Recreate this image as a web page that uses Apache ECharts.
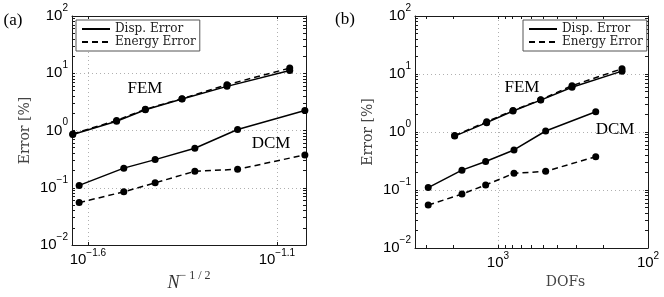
<!DOCTYPE html>
<html>
<head>
<meta charset="utf-8">
<script src="https://cdn.jsdelivr.net/npm/echarts@6/dist/echarts.min.js"></script>
<style>
html,body{margin:0;padding:0;background:#fff;}
#c{width:664px;height:297px;}
</style>
</head>
<body>
<div id="c"></div>
<script>
// ---- data ----
const femXA = [0.02291, 0.02992, 0.03565, 0.04457, 0.05861, 0.08590];   // N^{-1/2}
const dcmXA = [0.02382, 0.03126, 0.03784, 0.04819, 0.06252, 0.09419];   // N^{-1/2}
const femDofs = [1944, 1189, 794, 519, 321, 149];
const dcmDofs = [2917, 1738, 1208, 782, 481, 223];
const femDisp = [0.85, 1.45, 2.3, 3.55, 5.9, 11.2];
const femEnergy = [0.87, 1.5, 2.35, 3.6, 6.3, 12.3];
const dcmDisp = [0.11, 0.22, 0.31, 0.49, 1.04, 2.24];
const dcmEnergy = [0.055, 0.085, 0.122, 0.194, 0.21, 0.375];
const xTickExpA = [-1.6, -1.1];
const xTickExpB = [3, 2];
const yTickExp = [-2, -1, 0, 1, 2];
const seriesNames = ['Disp. Error', 'Energy Error'];

const zip = (xs, ys) => xs.map((x, i) => [x, ys[i]]);
const pow10 = e => Math.pow(10, e);
const fmtExp = e => (e < 0 ? '\u2212' : '') + Math.abs(e);

// tick value lists
const yMajor = yTickExp.map(pow10);
const yAllTicks = [];
for (let d = -2; d < 2; d++) for (let k = 1; k <= 9; k++) yAllTicks.push(k * Math.pow(10, d));
yAllTicks.push(100);
const yGrid = yMajor.slice(1, -1);
const xMajorA = xTickExpA.map(pow10);
const xMajorB = xTickExpB.map(pow10);
const xAllB = [100, 200, 300, 400, 500, 600, 700, 800, 900, 1000, 2000, 3000];

const tickFont = 'Liberation Sans, Arial, sans-serif';
const serif = 'DejaVu Serif, serif';
const richY = {
  b: {fontFamily: tickFont, fontSize: 15, lineHeight: 26, color: '#000'},
  s: {fontFamily: tickFont, fontSize: 10, lineHeight: 10, verticalAlign: 'top', color: '#000'}
};
const richX = {
  b: {fontFamily: tickFont, fontSize: 15, lineHeight: 24, color: '#000'},
  s: {fontFamily: tickFont, fontSize: 10, lineHeight: 10, verticalAlign: 'top', color: '#000'}
};
const powLabel = (v, dec) => {
  const e = Math.round(Math.log10(v) * dec) / dec;
  return '{b|10}{s|' + fmtExp(e) + '}';
};

const lineCol = '#1a1a1a';
const gridStyle = {show: true, lineStyle: {color: '#b0b0b0', width: 1, type: [1, 3]}};

function xAxes(gridIndex, min, max, inverse, labelVals, tickVals, gridVals, name, nameStyle, nameGap) {
  return [
    { gridIndex, type: 'log', min, max, inverse, position: 'bottom',
      axisLine: {show: true, lineStyle: {color: lineCol, width: 1}},
      axisTick: {show: true, inside: true, length: 3, customValues: tickVals, lineStyle: {color: lineCol}},
      axisLabel: {show: true, customValues: labelVals, margin: 3, formatter: v => powLabel(v, 10), rich: richX},
      splitLine: {show: false}, minorTick: {show: false} },
    { gridIndex, type: 'log', min, max, inverse, position: 'top',
      axisLine: {show: true, lineStyle: {color: lineCol, width: 1}},
      axisTick: {show: true, inside: true, length: 3, customValues: tickVals, lineStyle: {color: lineCol}},
      axisLabel: {show: false}, splitLine: {show: false} },
    { gridIndex, type: 'log', min, max, inverse, position: 'bottom',
      axisLine: {show: false}, axisTick: {show: false, customValues: gridVals},
      axisLabel: {show: false}, splitLine: gridStyle,
      name, nameLocation: 'middle', nameGap, nameTextStyle: nameStyle }
  ];
}
function yAxes(gridIndex, nameGap) {
  return [
    { gridIndex, type: 'log', min: 0.01, max: 100, position: 'left',
      axisLine: {show: true, lineStyle: {color: lineCol, width: 1}},
      axisTick: {show: true, inside: true, length: 3, customValues: yAllTicks, lineStyle: {color: lineCol}},
      axisLabel: {show: true, customValues: yMajor, margin: 4, formatter: v => powLabel(v, 1), rich: richY},
      splitLine: {show: false} },
    { gridIndex, type: 'log', min: 0.01, max: 100, position: 'right',
      axisLine: {show: true, lineStyle: {color: lineCol, width: 1}},
      axisTick: {show: true, inside: true, length: 3, customValues: yAllTicks, lineStyle: {color: lineCol}},
      axisLabel: {show: false}, splitLine: {show: false} },
    { gridIndex, type: 'log', min: 0.01, max: 100, position: 'left',
      axisLine: {show: false}, axisTick: {show: false, customValues: yGrid},
      axisLabel: {show: false}, splitLine: gridStyle,
      name: 'Error [%]', nameLocation: 'middle', nameRotate: 90, nameGap,
      nameTextStyle: {fontFamily: serif, fontSize: 14, color: '#444'} }
  ];
}

function mkSeries(name, data, xi, yi, dashed) {
  return {
    type: 'line', name, data, xAxisIndex: xi, yAxisIndex: yi,
    symbol: 'circle', symbolSize: 7, showSymbol: true, clip: false,
    itemStyle: {color: '#000'},
    lineStyle: {color: '#000', width: 1.5, type: dashed ? [6, 4] : 'solid'},
    z: 3
  };
}

const nameA = {
  rich: {
    n: {fontFamily: 'Liberation Serif, serif', fontStyle: 'italic', fontSize: 18, lineHeight: 26, color: '#333'},
    s: {fontFamily: 'Liberation Serif, serif', fontSize: 12, lineHeight: 12, verticalAlign: 'top', color: '#333'}
  }
};
const nameB = {fontFamily: serif, fontSize: 14, color: '#444', padding: [0, 0, 0, 68]};

const legendCommon = {
  orient: 'vertical', top: 20, itemWidth: 28, itemHeight: 3, itemGap: 1,
  padding: [3, 4, 3, 5], backgroundColor: '#fff', borderColor: '#555', borderWidth: 1,
  borderRadius: 0, data: seriesNames, selectedMode: false,
  itemStyle: {opacity: 0},
  textStyle: {fontFamily: serif, fontSize: 12, color: '#222'}
};

const annFont = '17px "Liberation Serif", serif';
const ann = (text, x, y) => ({type: 'text', x, y, z: 10,
  style: {text, font: annFont, fill: '#000', align: 'center', verticalAlign: 'middle'}});

const option = {
  animation: false,
  backgroundColor: '#fff',
  grid: [
    {left: 72, top: 16, width: 234, height: 232},
    {left: 415, top: 16, width: 233, height: 232}
  ],
  xAxis: [
    ...xAxes(0, pow10(-1.642), pow10(-1.023), false, xMajorA, xMajorA, xMajorA,
      '{n|N}{s|\u2212 1 / 2}', nameA, 25),
    ...xAxes(1, 100, 3573, true, xMajorB, xAllB, [1000], 'DOFs', nameB, 27)
  ],
  yAxis: [...yAxes(0, 40), ...yAxes(1, 40)],
  legend: [
    Object.assign({}, legendCommon, {left: 76}),
    Object.assign({}, legendCommon, {left: 523})
  ],
  graphic: [
    ann('(a)', 13, 21), ann('(b)', 345, 20),
    ann('FEM', 145, 89), ann('DCM', 271, 144),
    ann('FEM', 522, 88), ann('DCM', 615, 130)
  ],
  series: [
    mkSeries(seriesNames[0], zip(femXA, femDisp), 0, 0, false),
    mkSeries(seriesNames[1], zip(femXA, femEnergy), 0, 0, true),
    mkSeries(seriesNames[0], zip(dcmXA, dcmDisp), 0, 0, false),
    mkSeries(seriesNames[1], zip(dcmXA, dcmEnergy), 0, 0, true),
    mkSeries(seriesNames[0], zip(femDofs, femDisp), 3, 3, false),
    mkSeries(seriesNames[1], zip(femDofs, femEnergy), 3, 3, true),
    mkSeries(seriesNames[0], zip(dcmDofs, dcmDisp), 3, 3, false),
    mkSeries(seriesNames[1], zip(dcmDofs, dcmEnergy), 3, 3, true)
  ]
};
const chart = echarts.init(document.getElementById('c'), null, {renderer: 'canvas'});
chart.setOption(option);
</script>
</body>
</html>
